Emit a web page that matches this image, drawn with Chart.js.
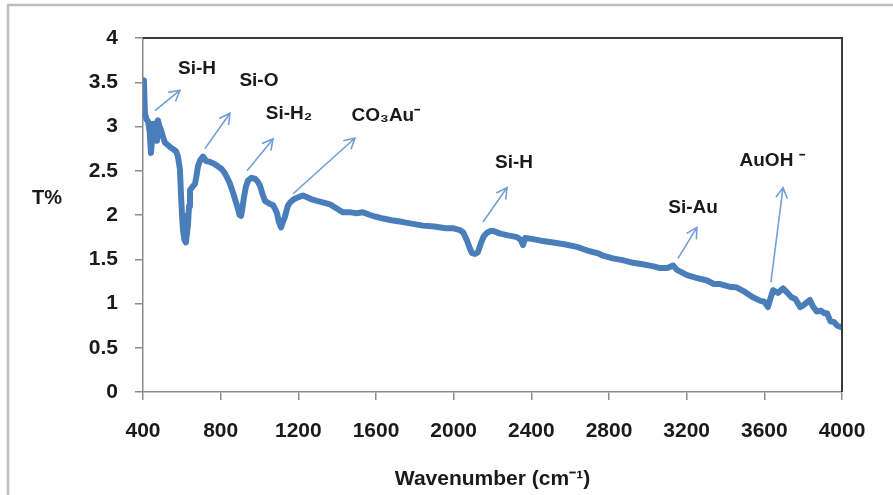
<!DOCTYPE html>
<html>
<head>
<meta charset="utf-8">
<script src="https://cdn.jsdelivr.net/npm/chart.js@4.4.0/dist/chart.umd.min.js"></script>
<style>
    body { margin: 0; background: #fff; }
    canvas { display: block; }
</style>
</head>
<body>
<canvas id="ftirChart" width="893" height="495"></canvas>
<script>
// spectrum
const wavenumber = [
    400, 405, 410, 418, 426, 434, 441, 446, 451, 459, 467, 472, 477, 485, 493, 503, 513, 528, 544, 558,
    570, 580, 590, 596, 601, 606, 613, 621, 627, 632, 637, 642, 655, 668, 676, 683, 695, 709, 725, 745,
    766, 786, 805, 822, 845, 864, 878, 889, 897, 905, 912, 920, 930, 941, 958, 977, 990, 1003, 1015, 1028,
    1050, 1070, 1082, 1090, 1100, 1111, 1120, 1131, 1145, 1157, 1172, 1188, 1210, 1224, 1245, 1265, 1296, 1330, 1363, 1400,
    1430, 1470, 1500, 1533, 1570, 1600, 1636, 1680, 1739, 1790, 1842, 1900, 1960, 2000, 2033, 2050, 2069, 2082, 2094, 2110,
    2125, 2140, 2155, 2172, 2190, 2203, 2240, 2280, 2326, 2345, 2357, 2368, 2400, 2450, 2512, 2570, 2635, 2700, 2740, 2769,
    2820, 2870, 2924, 2980, 3030, 3063, 3100, 3130, 3150, 3202, 3250, 3305, 3340, 3372, 3420, 3459, 3500, 3541, 3580, 3600,
    3619, 3632, 3645, 3670, 3696, 3715, 3740, 3760, 3784, 3800, 3835, 3850, 3870, 3890, 3910, 3923, 3940, 3960, 3975, 4000
];
const transmittance = [
    3.52, 3.50, 3.15, 3.08, 3.06, 2.95, 2.70, 2.85, 3.03, 2.95, 2.84, 3.05, 3.07, 3.00, 2.96, 2.88, 2.82, 2.79, 2.76, 2.74,
    2.72, 2.66, 2.52, 2.22, 2.00, 1.83, 1.72, 1.69, 1.80, 1.90, 2.10, 2.28, 2.32, 2.35, 2.45, 2.55, 2.62, 2.66, 2.61, 2.60,
    2.58, 2.55, 2.52, 2.47, 2.37, 2.25, 2.15, 2.07, 2.00, 1.99, 2.08, 2.20, 2.32, 2.39, 2.42, 2.41, 2.38, 2.33, 2.24, 2.16,
    2.13, 2.11, 2.06, 2.02, 1.92, 1.86, 1.92, 1.98, 2.10, 2.14, 2.17, 2.19, 2.21, 2.22, 2.20, 2.18, 2.16, 2.14, 2.12, 2.07,
    2.03, 2.03, 2.02, 2.03, 2.00, 1.98, 1.96, 1.94, 1.92, 1.90, 1.88, 1.87, 1.85, 1.85, 1.83, 1.80, 1.71, 1.63, 1.57, 1.56,
    1.58, 1.68, 1.76, 1.80, 1.82, 1.82, 1.79, 1.77, 1.75, 1.72, 1.66, 1.74, 1.73, 1.71, 1.69, 1.67, 1.64, 1.59, 1.57, 1.54,
    1.51, 1.49, 1.46, 1.44, 1.42, 1.40, 1.40, 1.43, 1.38, 1.32, 1.29, 1.26, 1.22, 1.22, 1.19, 1.18, 1.13, 1.07, 1.03, 1.02,
    0.96, 1.06, 1.15, 1.12, 1.17, 1.13, 1.07, 1.05, 0.96, 0.98, 1.04, 0.97, 0.91, 0.92, 0.89, 0.89, 0.80, 0.79, 0.75, 0.73
];

const xTicks = [400, 800, 1200, 1600, 2000, 2400, 2800, 3200, 3600, 4000];
const yTicks = [0, 0.5, 1, 1.5, 2, 2.5, 3, 3.5, 4];

// band labels and arrows (in wavenumber / T% units)
const bandLabels = ['Si-H', 'Si-O', 'Si-H\u2082', 'CO\u2083Au\u207B', 'Si-H', 'Si-Au', 'AuOH \u207B'];
const bandLabelX = [678, 997, 1152, 1651, 2311, 3233, 3640];
const bandLabelY = [3.65, 3.52, 3.14, 3.12, 2.59, 2.08, 2.61];
const arrowFromX = [462, 719, 936, 1173, 2151, 3155, 3634];
const arrowFromY = [3.18, 2.75, 2.50, 2.24, 1.92, 1.51, 1.24];
const arrowToX = [591, 848, 1070, 1492, 2275, 3253, 3696];
const arrowToY = [3.41, 3.15, 2.86, 2.87, 2.31, 1.86, 2.31];

const FONT = "'Liberation Sans', Arial, sans-serif";
const AXIS_GREY = '#8c8c8c';

const decorations = {
    id: 'decorations',
    beforeDraw(chart) {
        const ctx = chart.ctx;
        ctx.save();
        ctx.fillStyle = '#fff';
        ctx.fillRect(0, 0, chart.width, chart.height);
        // outer frame (left and top only visible)
        ctx.strokeStyle = '#bdbdbd';
        ctx.lineWidth = 2.5;
        ctx.beginPath();
        ctx.moveTo(8, chart.height);
        ctx.lineTo(8, 5);
        ctx.lineTo(chart.width, 5);
        ctx.stroke();
        ctx.restore();
    },
    afterDatasetsDraw(chart) {
        const ctx = chart.ctx;
        const area = chart.chartArea;
        const xs = chart.scales.x;
        const ys = chart.scales.y;
        ctx.save();

        // top and right border of the plot box
        ctx.strokeStyle = '#3a3a3a';
        ctx.lineWidth = 2;
        ctx.beginPath();
        ctx.moveTo(area.left, area.top);
        ctx.lineTo(area.right, area.top);
        ctx.lineTo(area.right, area.bottom);
        ctx.stroke();

        // arrows
        ctx.strokeStyle = 'rgba(100, 148, 210, 0.9)';
        ctx.lineWidth = 1.6;
        for (let i = 0; i < arrowFromX.length; i++) {
            const x1 = xs.getPixelForValue(arrowFromX[i]);
            const y1 = ys.getPixelForValue(arrowFromY[i]);
            const x2 = xs.getPixelForValue(arrowToX[i]);
            const y2 = ys.getPixelForValue(arrowToY[i]);
            const ang = Math.atan2(y2 - y1, x2 - x1);
            const head = 12;
            ctx.beginPath();
            ctx.moveTo(x1, y1);
            ctx.lineTo(x2, y2);
            ctx.moveTo(x2 - head * Math.cos(ang - 0.5), y2 - head * Math.sin(ang - 0.5));
            ctx.lineTo(x2, y2);
            ctx.lineTo(x2 - head * Math.cos(ang + 0.5), y2 - head * Math.sin(ang + 0.5));
            ctx.stroke();
        }

        // band labels
        ctx.fillStyle = '#1a1a1a';
        ctx.font = 'bold 19px ' + FONT;
        ctx.textAlign = 'center';
        ctx.textBaseline = 'middle';
        for (let i = 0; i < bandLabels.length; i++) {
            ctx.fillText(bandLabels[i], xs.getPixelForValue(bandLabelX[i]), ys.getPixelForValue(bandLabelY[i]));
        }

        // y axis title, horizontal
        ctx.font = 'bold 20px ' + FONT;
        ctx.fillText('T%', 47, (area.top + area.bottom) / 2 - 17);
        ctx.restore();
    }
};

const ctx = document.getElementById('ftirChart').getContext('2d');
const chart = new Chart(ctx, {
    type: 'line',
    data: {
        datasets: [{
            data: wavenumber.map((w, i) => ({ x: w, y: transmittance[i] })),
            borderColor: '#4a7ebb',
            borderWidth: 6,
            borderJoinStyle: 'round',
            borderCapStyle: 'round',
            pointRadius: 0,
            tension: 0,
            fill: false
        }]
    },
    options: {
        responsive: false,
        animation: false,
        devicePixelRatio: 1,
        layout: { padding: { top: 38, right: 51, left: 0, bottom: 0 } },
        plugins: {
            legend: { display: false },
            tooltip: { enabled: false }
        },
        scales: {
            x: {
                type: 'linear',
                min: 400,
                max: 4000,
                afterBuildTicks: (scale) => { scale.ticks = xTicks.map(v => ({ value: v })); },
                afterFit: (scale) => { scale.height = 103; },
                grid: { drawOnChartArea: false, tickLength: 8, color: AXIS_GREY, lineWidth: 1.5 },
                border: { color: AXIS_GREY, width: 1.5 },
                ticks: {
                    padding: 19,
                    maxRotation: 0,
                    color: '#1a1a1a',
                    font: { family: FONT, size: 21, weight: 'bold' },
                    callback: (v) => String(v)
                },
                title: {
                    display: true,
                    text: 'Wavenumber (cm\u207B\u00B9)',
                    color: '#1a1a1a',
                    font: { family: FONT, size: 21, weight: 'bold' },
                    padding: { top: 0, bottom: 3 }
                }
            },
            y: {
                min: 0,
                max: 4,
                afterBuildTicks: (scale) => { scale.ticks = yTicks.map(v => ({ value: v })); },
                afterFit: (scale) => { scale.width = 143; },
                grid: { drawOnChartArea: false, tickLength: 8, color: AXIS_GREY, lineWidth: 1.5 },
                border: { color: AXIS_GREY, width: 1.5 },
                ticks: {
                    padding: 17,
                    color: '#1a1a1a',
                    font: { family: FONT, size: 21, weight: 'bold' },
                    callback: (v) => String(v)
                }
            }
        }
    },
    plugins: [decorations]
});
</script>
</body>
</html>
